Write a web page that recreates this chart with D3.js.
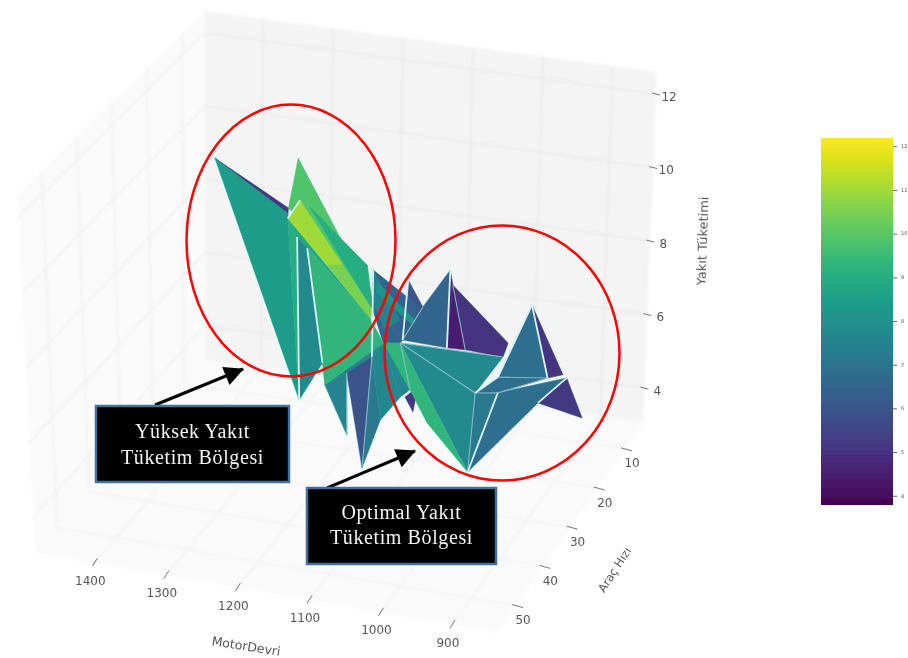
<!DOCTYPE html><html lang="tr"><head><meta charset="utf-8"><script src="https://cdn.jsdelivr.net/npm/d3@7"></script>
<style>html,body{margin:0;background:#fff}svg{display:block}</style></head><body><svg id="c" width="908" height="658"></svg><script>
// ---- data ----
const rpmTicks=[1400,1300,1200,1100,1000,900];
const speedTicks=[10,20,30,40,50];
const fuelTicks=[4,6,8,10,12];
const colorbarTicks=[4,5,6,7,8,9,10,11,12];
const vertexIds=["A","B","AV","C","D","E","F","G","H","I","J","K","L","M","N","O","P","Q","R","S","T","U","V","W","X","Y","Z","AA","AB","AC","AD","AE","AF","AG","AH","AI","AJ","AK","AL","AM","AN","AO","AP","AQ","AR","AS","AT","AU","AX","AZ","BA","BB","BC","BD","BE","BF","BG","BH","BI","BJ","AW"];
const vertexRpm=[1398,1265,1267,1178,1237,1178,1234,1136,1170,1061,1076,1230,1168,1162,1093,1147,1122,1089,1095,1132,1093,1091,934,946,965,936,933,925,905,906,898,891,911,1085,1009,1065,1085,1139,1187,1130,1204,1162,1173,1014,1050,1106,1088,1081,1058,1128,1132,1231,1105,1145,1135,1144,1164,1123,1128,1156,1267];
const vertexSpeed=[18.0,24.1,23.9,40.6,27.0,39.2,28.2,28.0,28.0,43.2,40.7,26.0,35.3,36.0,32.7,32.3,38.2,41.0,33.4,27.5,27.2,27.6,42.4,36.8,22.8,31.5,32.2,22.7,21.8,16.1,16.7,12.5,23.6,11.8,10.5,18.2,12.7,9.2,3.2,17.9,10.9,4.9,18.3,36.8,34.0,22.6,24.1,24.2,13.6,32.2,32.1,24.9,42.5,38.5,17.6,20.6,18.4,13.7,14.3,20.7,23.9];
const vertexFuel=[10.2,9.8,9.5,6.5,11.5,11.7,9.5,9,9.5,9.5,9,9,7,6.5,7.5,6.5,5.5,5,5.5,6.5,5.5,7,5.5,7,6.5,6.5,7,8,6,5.5,5.5,4,5.5,7,5.5,6,7.5,6,6,6,7,5.5,7,6,6.5,5,4.8,5.5,5.5,8.5,7,10,10.5,10,6.5,6.5,7.5,6,6,7.5,9.64];
const faces=["A B AV","AJ AG AI","AG AH X AX","AG AX AI","AA AC AB","AD AE AF","AL AK AM","AN AO AM AP","AP I N AM","AP AM U N","AN BE BF AP","BG BH BI BJ","AS AT AU","AJ AI AM AK","M O S N","N U AR T","M P O","O Q S","S Q R","S R T N","U W V","U X W","W Y V","Y AD AF V","AA AB Y W Z","N U V AQ AR","AV J K F","K J N M L","D B I G H","BB G I","A AW AV","A AV C","AV F C","F K L C","AV E BC BD","BD BC I J"];
const faceFuel=[5.2,4.6,5.1,4.5,5.1,5.2,5.9,6.4,7,6.5,7.5,8.2,5.2,6.5,7.6,7.7,7.5,5.9,7.2,7.7,7.8,7.8,7.2,6.8,6.8,9.3,8.9,9.3,9.9,9.0,8.4,8.4,9.0,7.8,11.0,10.5];
const strongEdges=["F C","K L","AJ AI","AA Z","Z W","AA AB","Y V","AD AF","AV E","AL AM","AN S"];
const faintEdges=["U W","U AR","U X","W V","W Y","Y AB","Z AB","S Q","O P","AG AX","AK AM"];
const ylabels=["Yüksek Yakıt","Tüketim Bölgesi"];
const olabels=["Optimal Yakıt","Tüketim Bölgesi"];

// ---- projection: three linear scales plus the eight screen corners of the box ----
const su=d3.scaleLinear().domain([1483,837]).range([0,1]);
const sv=d3.scaleLinear().domain([57,3.4]).range([0,1]);
const sw=d3.scaleLinear().domain([3.05,12.6]).range([0,1]);
const B={b00:[35,553],b10:[497,633],b01:[205,360],b11:[643,423],t00:[17,195],t10:[490,268],t01:[205,11],t11:[657,72]};
function proj(u,v,w){const f=i=>{const bot=(1-u)*(1-v)*B.b00[i]+u*(1-v)*B.b10[i]+(1-u)*v*B.b01[i]+u*v*B.b11[i];
  const top=(1-u)*(1-v)*B.t00[i]+u*(1-v)*B.t10[i]+(1-u)*v*B.t01[i]+u*v*B.t11[i];return (1-w)*bot+w*top;};return [f(0),f(1)];}
const pt=new Map(vertexIds.map((id,i)=>[id,proj(su(vertexRpm[i]),sv(vertexSpeed[i]),sw(vertexFuel[i]))]));
const line=d3.line();
const color=d3.scaleSequential(d3.interpolateViridis).domain([3.8,12.2]);

const svg=d3.select("#c");
const defs=svg.append("defs");
defs.append("filter").attr("id","soft").attr("x","-5%").attr("y","-5%").attr("width","110%").attr("height","110%").append("feGaussianBlur").attr("stdDeviation",0.75);
defs.append("filter").attr("id","softer").attr("x","-5%").attr("y","-5%").attr("width","110%").attr("height","110%").append("feGaussianBlur").attr("stdDeviation",1.4);
const ar=defs.append("marker").attr("id","head").attr("viewBox","0 0 10 10").attr("refX",9.5).attr("refY",5).attr("markerWidth",8).attr("markerHeight",6.5).attr("markerUnits","strokeWidth").attr("orient","auto");
ar.append("path").attr("d","M0,0L10,5L0,10Z").attr("fill","#000");
const grad=defs.append("linearGradient").attr("id","cbg").attr("x1",0).attr("x2",0).attr("y1",1).attr("y2",0);
d3.range(0,1.001,0.05).forEach(t=>grad.append("stop").attr("offset",t).attr("stop-color",d3.interpolateViridis(t)));

// ---- walls, floor, grid ----
const walls=svg.append("g").attr("filter","url(#softer)");
const poly=(pts,fill)=>walls.append("path").attr("d",line(pts)+"Z").attr("fill",fill);
poly([B.t00,B.t01,B.b01,B.b00],"#fafafa");
poly([B.t01,B.t11,B.b11,B.b01],"#f4f4f4");
poly([B.b00,B.b10,B.b11,B.b01],"#fafafa");
const grid=(a,b,c)=>walls.append("path").attr("d",line([a,b])).attr("stroke",c).attr("stroke-width",1.4).attr("fill","none");
const back="#e7e7e7",side="#efefef",fl="#f0f0f0";
rpmTicks.forEach(r=>{const u=su(r);grid(proj(u,1,1),proj(u,1,0),back);grid(proj(u,1,0),proj(u,0,0),fl);});
speedTicks.forEach(s=>{const v=sv(s);grid(proj(0,v,1),proj(0,v,0),side);grid(proj(0,v,0),proj(1,v,0),fl);});
fuelTicks.forEach(z=>{const w=sw(z);grid(proj(0,0,w),proj(0,1,w),side);grid(proj(0,1,w),proj(1,1,w),back);});

// ---- surface ----
const surf=svg.append("g").attr("filter","url(#soft)");
const fp=f=>f.split(" ").map(k=>pt.get(k));
surf.append("g").selectAll("path").data(faces).join("path").attr("d",f=>line(fp(f))+"Z").attr("fill","#e6fbfb").attr("stroke","#e6fbfb").attr("stroke-width",2.5).attr("stroke-linejoin","round");
surf.append("g").selectAll("path").data(faces).join("path").attr("d",f=>line(fp(f))+"Z").attr("fill",(f,i)=>color(faceFuel[i])).attr("stroke",(f,i)=>color(faceFuel[i])).attr("stroke-width",0.5).attr("stroke-linejoin","round");
surf.append("g").selectAll("path").data(faintEdges).join("path").attr("d",e=>line(fp(e))).attr("stroke","#8fc4cf").attr("stroke-width",1.1).attr("fill","none").attr("opacity",.85);
surf.append("g").selectAll("path").data(strongEdges).join("path").attr("d",e=>line(fp(e))).attr("stroke","#d9f3f6").attr("stroke-width",1.8).attr("fill","none");

// ---- axes ----
const ax=svg.append("g").attr("filter","url(#soft)").attr("font-family","DejaVu Sans").attr("fill","#555");
const tick=(a,b)=>ax.append("path").attr("d",line([a,b])).attr("stroke","#777").attr("stroke-width",1);
const labelAt=(p,dx,dy,t)=>ax.append("text").attr("x",p[0]+dx).attr("y",p[1]+dy).attr("text-anchor","middle").attr("dominant-baseline","middle").attr("font-size",12).text(t);
rpmTicks.forEach(r=>{const p=proj(su(r),0,0);tick([p[0]+3,p[1]-5],[p[0]-2,p[1]+3]);labelAt(p,-4,18,r);});
speedTicks.forEach(s=>{const p=proj(1,sv(s),0);tick([p[0]-4,p[1]-1],[p[0]+7,p[1]+2]);labelAt(p,7,15,s);});
fuelTicks.forEach(z=>{const p=proj(1,1,sw(z));tick([p[0]-4,p[1]-1],[p[0]+4,p[1]+1]);labelAt(p,13,3,z);});
const title=(x,y,r,s,t)=>ax.append("text").attr("transform",`translate(${x},${y}) rotate(${r})`).attr("text-anchor","middle").attr("dominant-baseline","middle").attr("font-size",s).text(t);
title(246,647,9,12.5,"MotorDevri");
title(615,570,-57,11.5,"Araç Hızı");
title(703,241,-88,13,"Yakıt Tüketimi");

// ---- colorbar ----
const cbY=d3.scaleLinear().domain([3.8,12.2]).range([505,138]);
const cb=svg.append("g").attr("filter","url(#soft)");
cb.append("rect").attr("x",821).attr("width",72).attr("y",cbY(12.2)).attr("height",cbY(3.8)-cbY(12.2)).attr("fill","url(#cbg)");
colorbarTicks.forEach(t=>{cb.append("path").attr("d",line([[893,cbY(t)],[897,cbY(t)]])).attr("stroke","#666");
 cb.append("text").attr("x",901).attr("y",cbY(t)).attr("dominant-baseline","middle").attr("font-family","DejaVu Sans").attr("font-size",5).attr("fill","#555").text(t);});

// ---- annotations ----
const an=svg.append("g");
an.append("ellipse").attr("cx",291).attr("cy",240.5).attr("rx",104.5).attr("ry",136).attr("fill","none").attr("stroke","#f00").attr("stroke-width",2.5);
an.append("ellipse").attr("cx",502).attr("cy",353).attr("rx",117.5).attr("ry",127.5).attr("fill","none").attr("stroke","#f00").attr("stroke-width",2.5);
[[155,405,243,369],[327,488,415,451]].forEach(a=>an.append("line").attr("x1",a[0]).attr("y1",a[1]).attr("x2",a[2]).attr("y2",a[3]).attr("stroke","#000").attr("stroke-width",3).attr("marker-end","url(#head)"));
const box=(x,y,w,h,lines,ys)=>{an.append("rect").attr("x",x).attr("y",y).attr("width",w).attr("height",h).attr("fill","#000").attr("stroke","#41719c").attr("stroke-width",2.5);
 lines.forEach((t,i)=>an.append("text").attr("x",x+w/2).attr("y",ys[i]).attr("text-anchor","middle").attr("dominant-baseline","middle").attr("font-family","Liberation Serif").attr("font-size",20).attr("letter-spacing",0.6).attr("fill","#f4f4f4").text(t));};
box(96,406,193,76,ylabels,[433,459]);
box(307,488,189,76,olabels,[514,539]);
</script></body></html>
